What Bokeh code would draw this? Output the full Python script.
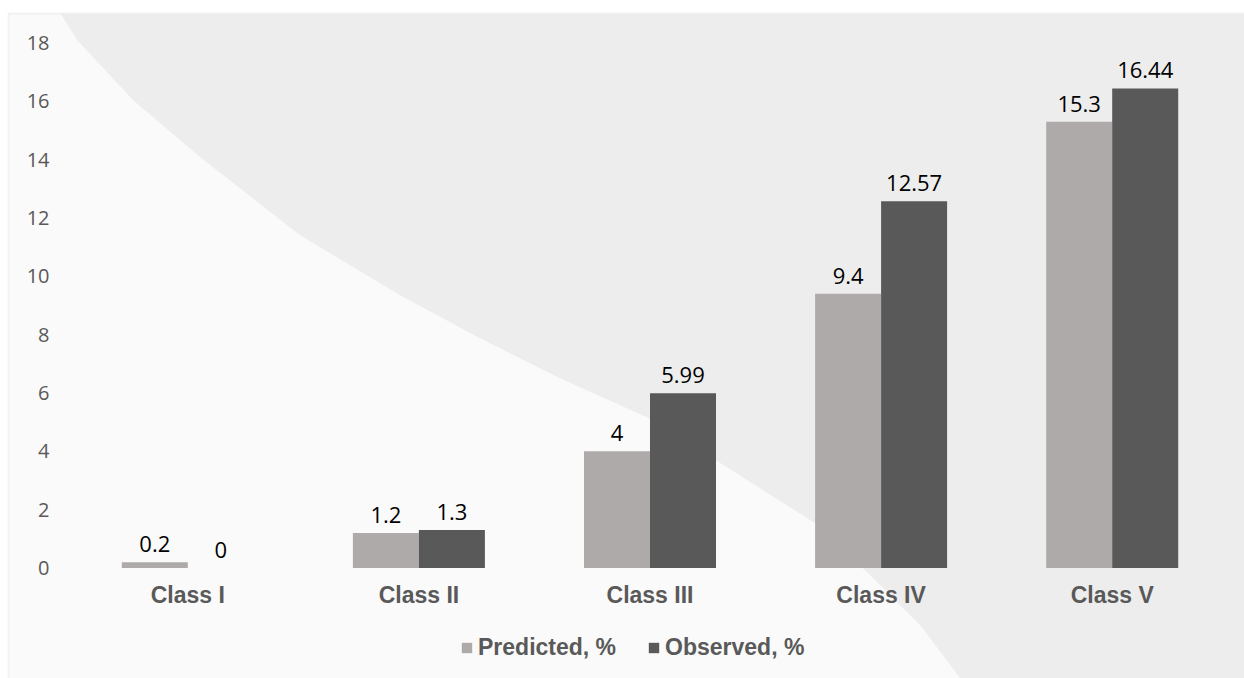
from bokeh.plotting import figure
from bokeh.models import (ColumnDataSource, FixedTicker, Range1d, Legend, LegendItem,
                          PolyAnnotation, BoxAnnotation)
from bokeh.transform import dodge
from bokeh.core.properties import value
from bokeh.embed import file_html
from bokeh.resources import INLINE

# ---- data ----
categories = ["Class I", "Class II", "Class III", "Class IV", "Class V"]
predicted = [0.2, 1.2, 4, 9.4, 15.3]
observed = [0, 1.3, 5.99, 12.57, 16.44]
series_names = ["Predicted, %", "Observed, %"]
y_ticks = [0, 2, 4, 6, 8, 10, 12, 14, 16, 18]

# ---- styles ----
C_PRED = "#aeaaaa"
C_OBS = "#595959"
TXT = "#595959"

x_idx = list(range(1, len(categories) + 1))
src = ColumnDataSource(dict(
    x=x_idx,
    cat=categories,
    pred=predicted,
    obs=observed,
    pred_lbl=[f"{v:g}" for v in predicted],
    obs_lbl=[f"{v:g}" for v in observed],
))

p = figure(width=1244, height=678, output_backend="svg", toolbar_location=None,
           x_range=Range1d(0.18953, 5.5725), y_range=Range1d(-3.788, 19.455),
           min_border_left=0, min_border_right=0, min_border_top=0, min_border_bottom=0)

p.background_fill_color = "#ffffff"
p.border_fill_color = "#ffffff"
p.outline_line_color = None

# decorative chart-area panel and light swoosh (not data), canvas pixels
p.add_layout(BoxAnnotation(left=8, right=1300, top=13, bottom=720,
                           left_units="canvas", right_units="canvas",
                           top_units="canvas", bottom_units="canvas",
                           fill_color="#fafafa", fill_alpha=1,
                           line_color="#d9d9d9", line_width=2, level="underlay",
                           editable=False))
deco_x = [60, 77, 133, 200, 300, 400, 480, 560, 647, 700, 815, 870, 920, 960, 1244, 1244]
deco_y = [13, 40, 100, 157, 235, 295, 338, 378, 417, 450, 523, 575, 625, 678, 678, 13]
p.add_layout(PolyAnnotation(xs=deco_x, ys=deco_y, xs_units="canvas", ys_units="canvas",
                            fill_color="#ededed", fill_alpha=1, line_color=None,
                            level="underlay"))
p.add_layout(BoxAnnotation(left=1244, right=1300, top=0, bottom=13,
                           left_units="canvas", right_units="canvas",
                           top_units="canvas", bottom_units="canvas",
                           fill_alpha=0, line_alpha=0, level="underlay", editable=False))

bw = 0.2856
r1 = p.vbar(x=dodge("x", -bw / 2, range=p.x_range), top="pred", width=bw, source=src,
            fill_color=C_PRED, line_color=None)
r2 = p.vbar(x=dodge("x", bw / 2, range=p.x_range), top="obs", width=bw, source=src,
            fill_color=C_OBS, line_color=None)

for col, off in (("pred_lbl", -bw / 2), ("obs_lbl", bw / 2)):
    p.text(x=dodge("x", off, range=p.x_range), y=col.replace("_lbl", ""), text=col, source=src,
           text_align="center", text_baseline="alphabetic", y_offset=-18,
           text_font=value("Open Sans"), text_font_size="22px", text_color="#000000")

# axes drawn inside the frame at fixed positions
p.xaxis.fixed_location = 0
p.yaxis.fixed_location = 0.49243
p.xaxis.ticker = FixedTicker(ticks=x_idx)
p.xaxis.major_label_overrides = {i: c for i, c in zip(x_idx, categories)}
p.xaxis.major_label_text_font = "Liberation Sans"
p.xaxis.major_label_text_font_style = "bold"
p.xaxis.major_label_text_font_size = "23px"
p.xaxis.major_label_text_color = TXT
p.xaxis.major_label_standoff = 14
p.yaxis.ticker = FixedTicker(ticks=y_ticks)
p.yaxis.major_label_text_font = "Open Sans"
p.yaxis.major_label_text_font_size = "20px"
p.yaxis.major_label_text_color = TXT
p.yaxis.major_label_standoff = 21
for ax in (p.xaxis, p.yaxis):
    ax.axis_line_color = None
    ax.major_tick_line_color = None
    ax.minor_tick_line_color = None
    ax.major_tick_out = 0
    ax.major_tick_in = 0
p.xgrid.grid_line_color = None
p.ygrid.grid_line_color = None

legend = Legend(items=[LegendItem(label=series_names[0], renderers=[r1]),
                       LegendItem(label=series_names[1], renderers=[r2])],
                orientation="horizontal", location=(460, 17),
                glyph_width=13, glyph_height=13, label_standoff=5, spacing=31,
                padding=0, margin=0, border_line_color=None, background_fill_alpha=0,
                label_text_font="Liberation Sans", label_text_font_style="bold",
                label_text_font_size="23px", label_text_color=TXT)
p.add_layout(legend, "center")

open("out.html", "w").write(file_html(p, INLINE))
